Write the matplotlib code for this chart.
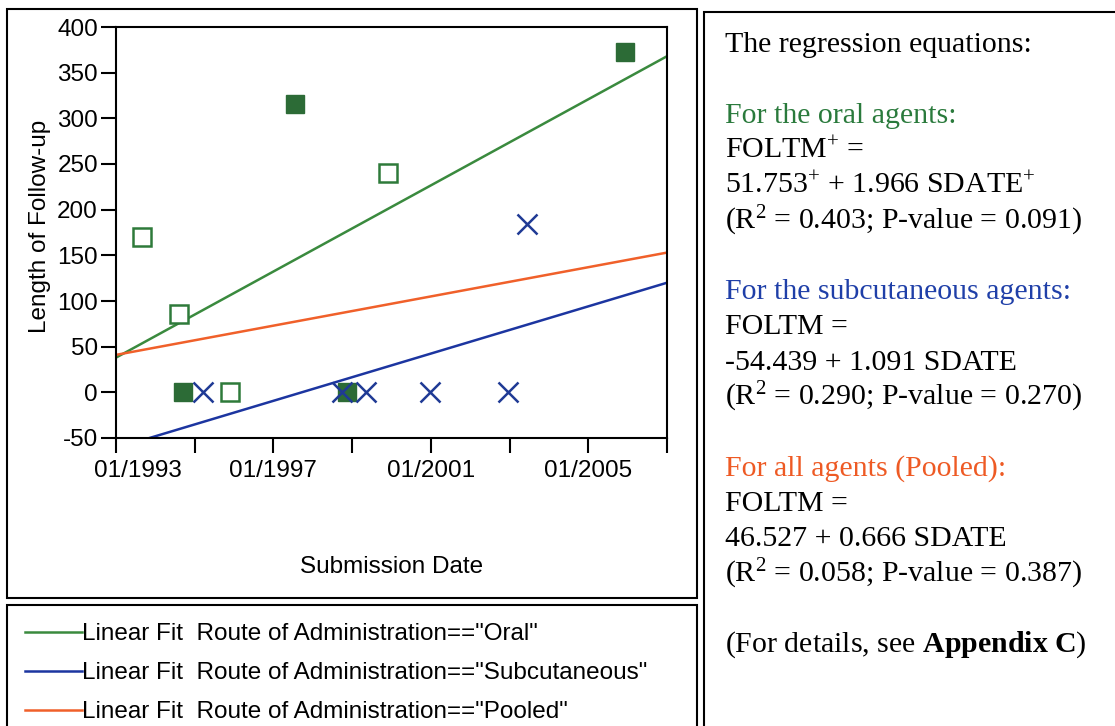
import matplotlib
matplotlib.use("Agg")
import matplotlib.pyplot as plt
import matplotlib.transforms as mtransforms
from matplotlib.patches import Rectangle

plt.rcParams['font.family'] = ['Liberation Sans', 'DejaVu Sans']
plt.rcParams['axes.unicode_minus'] = False
plt.rcParams['mathtext.fontset'] = 'custom'
plt.rcParams['mathtext.rm'] = 'Liberation Serif'
plt.rcParams['mathtext.it'] = 'Liberation Serif:italic'
plt.rcParams['mathtext.bf'] = 'Liberation Serif:bold'

# submission date (decimal year) vs length of follow-up
oral_filled_x = [1994.70, 1997.55, 1998.87, 2005.93]
oral_filled_y = [0, 316, 0, 373]
oral_open_x = [1993.66, 1994.60, 1995.90, 1999.91]
oral_open_y = [170, 86, 0, 240]
subq_x = [1995.21, 1998.74, 1999.35, 2000.98, 2002.96, 2003.44]
subq_y = [0, 0, 0, 0, 0, 184]

# fitted lines, read at the ends of the x range
fit_x = [1993.0, 2007.0]
oral_fit = [38, 368]
subq_fit = [-61, 120]
pooled_fit = [41, 153]

xticks = [1993, 1995, 1997, 1999, 2001, 2003, 2005, 2007]
xticklabels = ['01/1993', '', '01/1997', '', '01/2001', '', '01/2005', '']
yticks = [-50, 0, 50, 100, 150, 200, 250, 300, 350, 400]

legend_labels = ['Linear Fit  Route of Administration=="Oral"',
                 'Linear Fit  Route of Administration=="Subcutaneous"',
                 'Linear Fit  Route of Administration=="Pooled"']

GREEN_LINE = '#3a8a3e'
GREEN_MK = '#2c6b36'
BLUE = '#1c35a0'
ORANGE = '#f0602a'
FS = 17.5

W, H = 1115, 726
fig = plt.figure(figsize=(W / 100, H / 100), dpi=100)


def fx(px):
    return px / W


def fy(py):
    return 1 - py / H


ax = fig.add_axes([fx(116), fy(438), fx(667) - fx(116), fy(27) - fy(438)])

l_oral, = ax.plot(fit_x, oral_fit, color=GREEN_LINE, lw=1.8, zorder=2)
l_subq, = ax.plot(fit_x, subq_fit, color=BLUE, lw=1.8, zorder=2)
l_pool, = ax.plot(fit_x, pooled_fit, color=ORANGE, lw=1.8, zorder=2)

ax.plot(oral_filled_x, oral_filled_y, 's', ms=13.5, color=GREEN_MK,
        mec=GREEN_MK, zorder=3)
ax.plot(oral_open_x, oral_open_y, 's', ms=12.5, mfc='white',
        mec='#2e7a3a', mew=1.8, zorder=3)
ax.plot(subq_x, subq_y, 'x', ms=15, color='#1f3a95', mew=1.8, zorder=4)

ax.set_xlim(1993, 2007)
ax.set_ylim(-50, 400)
ax.set_xticks(xticks)
ax.set_xticklabels(xticklabels)
ax.set_yticks(yticks)
ax.tick_params(axis='both', direction='out', length=11, width=1.5,
               labelsize=FS, colors='black')
ax.tick_params(axis='x', pad=5)
ax.tick_params(axis='y', pad=2)
for s in ax.spines.values():
    s.set_linewidth(1.5)

# first date label is pushed right so it stays inside the frame
first = ax.get_xticklabels()[0]
first.set_transform(first.get_transform() +
                    mtransforms.ScaledTranslation(22 / 100, 0, fig.dpi_scale_trans))

ax.set_xlabel('Submission Date', fontsize=FS)
ax.set_ylabel('Length of Follow-up', fontsize=FS)
ax.xaxis.set_label_coords(0.5, (438 - 556) / 411)
ax.yaxis.set_label_coords((51 - 116) / 551, (438 - 226) / 411)

# frames around the panels
for (x0, y0, x1, y1) in [(7, 9, 697, 598), (7, 605, 697, 740), (704, 12, 1125, 740)]:
    fig.patches.append(Rectangle((fx(x0), fy(y1)), fx(x1) - fx(x0), fy(y0) - fy(y1),
                                 transform=fig.transFigure, fill=False,
                                 lw=1.5, ec='black'))

fig.legend([l_oral, l_subq, l_pool], legend_labels, loc='upper left',
           bbox_to_anchor=(fx(25), fy(623)), frameon=False, fontsize=FS,
           handlelength=2.35, handletextpad=0.0, labelspacing=0.7,
           borderpad=0, borderaxespad=0)

# regression equations panel
eq_lines = [
    ('The regression equations:', 'black'),
    ('', None),
    ('For the oral agents:', '#2a7a3c'),
    ('FOLTM$^{+}$ =', 'black'),
    ('51.753$^{+}$ + 1.966 SDATE$^{+}$', 'black'),
    ('(R$^{2}$ = 0.403; P-value = 0.091)', 'black'),
    ('', None),
    ('For the subcutaneous agents:', '#1f3fa8'),
    ('FOLTM =', 'black'),
    ('-54.439 + 1.091 SDATE', 'black'),
    ('(R$^{2}$ = 0.290; P-value = 0.270)', 'black'),
    ('', None),
    ('For all agents (Pooled):', '#ee5a24'),
    ('FOLTM =', 'black'),
    ('46.527 + 0.666 SDATE', 'black'),
    ('(R$^{2}$ = 0.058; P-value = 0.387)', 'black'),
    ('', None),
    ('(For details, see $\\mathbf{Appendix\\ C}$)', 'black'),
]
for i, (txt, col) in enumerate(eq_lines):
    if not txt:
        continue
    fig.text(fx(725), fy(52 + 35.3 * i), txt, color=col, fontsize=21.5,
             family=['Liberation Serif', 'DejaVu Serif'], va='baseline', ha='left')

fig.savefig('out.png', dpi=100)
